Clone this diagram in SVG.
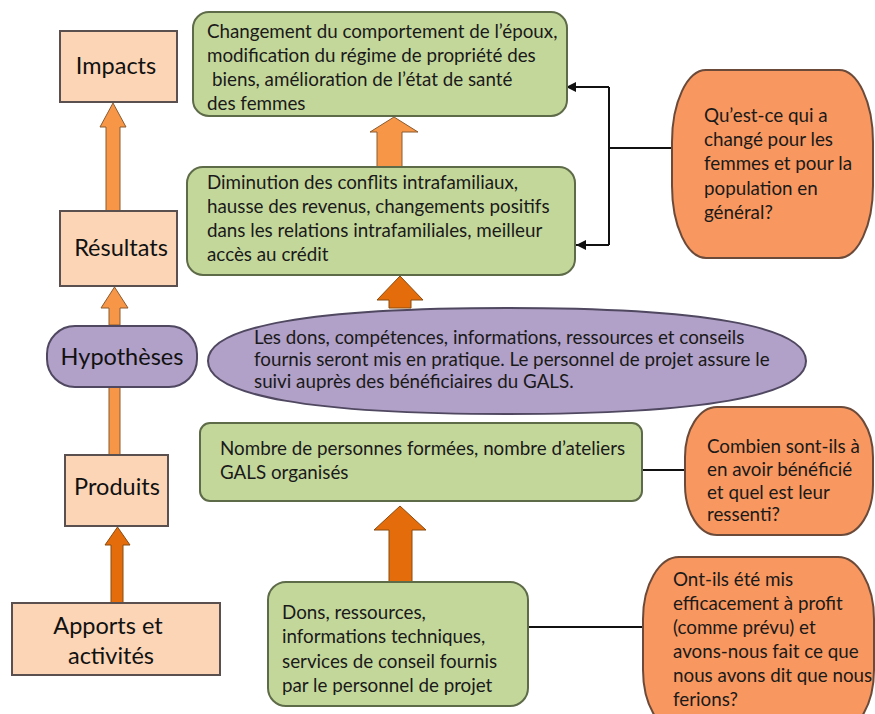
<svg xmlns="http://www.w3.org/2000/svg" width="875" height="714" viewBox="0 0 875 714">
<defs>
<style>
.peach{fill:#FBD5B5;stroke:#5a5050;stroke-width:2}
.green{fill:#C4D79B;stroke:#5E6B48;stroke-width:2}
.purple{fill:#B1A0C7;stroke:#4f4860;stroke-width:2}
.orange{fill:#F8975F;stroke:#6b4a3a;stroke-width:2}
.lt{fill:#F79646;stroke:#8a5a30;stroke-width:1}
.dk{fill:#E46C0A;stroke:#8a4a10;stroke-width:1}
.lbl{font-family:Lato,"Liberation Sans",sans-serif;font-size:23.5px;fill:#111;text-anchor:middle}
.txt{font-family:Lato,"Liberation Sans",sans-serif;font-size:18.8px;fill:#1a1a1a}
.conn{fill:none;stroke:#111;stroke-width:2}
</style>
<marker id="ah" viewBox="0 0 10 10" refX="10" refY="5" markerWidth="5" markerHeight="5" orient="auto">
<path d="M0,0 L10,5 L0,10 z" fill="#111"/>
</marker>
</defs>
<rect width="875" height="714" fill="#fff"/>

<g id="connectors">
<polygon class="lt" points="106,211 106,127 100,127 113,103 126,127 120,127 120,211"/>
<polygon class="lt" points="109,325 109,308 101,308 114.5,287 128,308 120,308 120,325"/>
<rect class="lt" x="109" y="387" width="11" height="68"/>
<polygon class="dk" points="111,603 111,545 105,545 117.5,527 130,545 123,545 123,603"/>
<polygon class="lt" points="377,167 377,132 370,132 394,117 418,132 402,132 402,167"/>
<polygon class="dk" points="389,308 389,300 377,300 400,276 423,300 411,300 411,308"/>
<polygon class="dk" points="389,583 389,530 374,530 400,506 426,530 412,530 412,583"/>
<path class="conn" d="M672,148 L609,148"/>
<path class="conn" d="M609,87 L609,245"/>
<path class="conn" d="M609,87 L566,87" marker-end="url(#ah)"/>
<path class="conn" d="M609,245 L576,245" marker-end="url(#ah)"/>
<path class="conn" d="M642,470 L686,470"/>
<path class="conn" d="M528,627 L645,627"/>
</g>

<g id="impacts">
<rect class="peach" x="60" y="31" width="117" height="71"/>
<text class="lbl" x="116" y="74">Impacts</text>
</g>
<g id="resultats">
<rect class="peach" x="60" y="211" width="117" height="75"/>
<text class="lbl" x="121" y="256">Résultats</text>
</g>
<g id="hypotheses">
<rect class="purple" x="47" y="326" width="150" height="61" rx="28"/>
<text class="lbl" x="122" y="365">Hypothèses</text>
</g>
<g id="produits">
<rect class="peach" x="65" y="455" width="103" height="71"/>
<text class="lbl" x="117" y="495">Produits</text>
</g>
<g id="apports">
<rect class="peach" x="12" y="603" width="208" height="72"/>
<text class="lbl" x="108" y="634">Apports et</text>
<text class="lbl" x="111" y="664">activités</text>
</g>

<g id="g-impacts">
<rect class="green" x="193" y="12" width="374" height="104" rx="16"/>
<text class="txt" x="207" y="38">Changement du comportement de l’époux,</text>
<text class="txt" x="207" y="62">modification du régime de propriété des</text>
<text class="txt" x="212" y="86">biens, amélioration de l’état de santé</text>
<text class="txt" x="207" y="110">des femmes</text>
</g>
<g id="g-resultats">
<rect class="green" x="187" y="167" width="388" height="108" rx="16"/>
<text class="txt" x="207" y="189">Diminution des conflits intrafamiliaux,</text>
<text class="txt" x="207" y="213">hausse des revenus, changements positifs</text>
<text class="txt" x="207" y="237">dans les relations intrafamiliales, meilleur</text>
<text class="txt" x="207" y="261">accès au crédit</text>
</g>
<g id="g-hypotheses">
<path class="purple" d="M208,361 C208,326 313,308 507,308 C701,308 806,326 806,361 C806,396 701,414 507,414 C313,414 208,396 208,361 Z"/>
<text class="txt" x="254" y="344">Les dons, compétences, informations, ressources et conseils</text>
<text class="txt" x="254" y="366">fournis seront mis en pratique. Le personnel de projet assure le</text>
<text class="txt" x="254" y="388">suivi auprès des bénéficiaires du GALS.</text>
</g>
<g id="g-produits">
<rect class="green" x="200" y="423" width="442" height="78" rx="10"/>
<text class="txt" x="220" y="455">Nombre de personnes formées, nombre d’ateliers</text>
<text class="txt" x="220" y="479">GALS organisés</text>
</g>
<g id="g-apports">
<rect class="green" x="268" y="582" width="260" height="124" rx="18"/>
<text class="txt" x="282" y="619">Dons, ressources,</text>
<text class="txt" x="282" y="643">informations techniques,</text>
<text class="txt" x="282" y="668">services de conseil fournis</text>
<text class="txt" x="282" y="692">par le personnel de projet</text>
</g>

<g id="q-impacts">
<rect class="orange" x="672" y="70" width="201" height="188" rx="34" ry="72"/>
<text class="txt" x="704" y="122">Qu’est-ce qui a</text>
<text class="txt" x="704" y="146">changé pour les</text>
<text class="txt" x="704" y="170">femmes et pour la</text>
<text class="txt" x="704" y="195">population en</text>
<text class="txt" x="704" y="219">général?</text>
</g>
<g id="q-produits">
<rect class="orange" x="685" y="407" width="188" height="128" rx="32" ry="50"/>
<text class="txt" x="707" y="453">Combien sont-ils à</text>
<text class="txt" x="707" y="476">en avoir bénéficié</text>
<text class="txt" x="707" y="499">et quel est leur</text>
<text class="txt" x="707" y="521">ressenti?</text>
</g>
<g id="q-apports">
<rect class="orange" x="643" y="557" width="231" height="175" rx="36" ry="62"/>
<text class="txt" x="673" y="586">Ont-ils été mis</text>
<text class="txt" x="673" y="610">efficacement à profit</text>
<text class="txt" x="673" y="634">(comme prévu) et</text>
<text class="txt" x="673" y="658">avons-nous fait ce que</text>
<text class="txt" x="673" y="682">nous avons dit que nous</text>
<text class="txt" x="673" y="706">ferions?</text>
</g>
</svg>
